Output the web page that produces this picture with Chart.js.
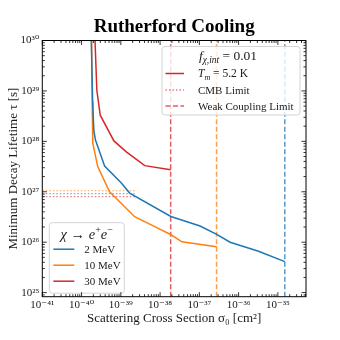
<!DOCTYPE html>
<html>
<head>
<meta charset="utf-8">
<script src="https://cdn.jsdelivr.net/npm/chart.js@4.4.1/dist/chart.umd.min.js"></script>
<style>
  html, body { margin: 0; padding: 0; background: #fff; }
</style>
</head>
<body>
<canvas id="chart" width="340" height="340"></canvas>
<script>
const FONT = "'Liberation Serif', 'DejaVu Serif', serif";
const INK = '#1a1a1a';

// masses and colours
const massLabels = ['2 MeV', '10 MeV', '30 MeV'];
const massColors = ['#1f77b4', '#ff7f0e', '#d62728'];

// cross section [cm^2] / minimum lifetime [s]
const sigma2MeV = [1.77e-40, 1.91e-40, 2.05e-40, 2.26e-40, 3.86e-40, 1.03e-39, 1.68e-39, 1.88e-38, 1.04e-37, 2.77e-37, 6.07e-37, 3.21e-36, 1.50e-35];
const tau2MeV   = [1e30, 6.55e28, 1.67e28, 1.06e28, 3.23e27, 1.49e27, 9.42e26, 3.23e26, 2.09e26, 1.43e26, 1.0e26, 6.6e25, 4.11e25];

const sigma10MeV = [1.80e-40, 1.86e-40, 1.93e-40, 2.59e-40, 5.18e-40, 8.43e-40, 2.25e-39, 7.31e-39, 1.85e-38, 3.60e-38, 2.74e-37];
const tau10MeV   = [1e30, 6.3e28, 9.2e27, 3.13e27, 1.0e27, 6.86e26, 3.20e26, 2.03e26, 1.42e26, 1.02e26, 8.15e25];

const sigma30MeV = [2.20e-40, 2.45e-40, 2.99e-40, 6.67e-40, 1.38e-39, 4.06e-39, 1.86e-38];
const tau30MeV   = [1e30, 1.03e29, 3.3e28, 1.02e28, 6.19e27, 3.3e27, 2.72e27];

// CMB limits (dotted) and weak coupling limits (dashed)
const cmbLimit = [9.2e26, 1.05e27, 8.0e26];
const cmbRange = [1e-41, 2.25e-39];
const weakCoupling = [1.50e-35, 2.74e-37, 1.86e-38];

// axis ranges and ticks
const xLimits = [1e-41, 5.2e-35];
const yLimits = [8.3e24, 1e30];
const xDecades = [1e-41, 1e-40, 1e-39, 1e-38, 1e-37, 1e-36, 1e-35];
const yDecades = [1e25, 1e26, 1e27, 1e28, 1e29, 1e30];

const sigmas = [sigma2MeV, sigma10MeV, sigma30MeV];
const taus = [tau2MeV, tau10MeV, tau30MeV];

const SUP = {'-': '⁻', '0': '⁰', '1': '¹', '2': '²', '3': '³', '4': '⁴', '5': '⁵', '6': '⁶', '7': '⁷', '8': '⁸', '9': '⁹'};
function pow10Label(v) {
  const e = Math.round(Math.log10(v));
  return '10' + String(e).split('').map(c => SUP[c]).join('');
}

function withAlpha(hex, a) {
  const n = parseInt(hex.slice(1), 16);
  return `rgba(${n >> 16}, ${(n >> 8) & 255}, ${n & 255}, ${a})`;
}

const datasets = [];
massLabels.forEach((label, i) => {
  datasets.push({
    label: label,
    data: sigmas[i].map((s, k) => ({x: s, y: taus[i][k]})),
    borderColor: massColors[i],
    borderWidth: 1.5,
    pointRadius: 0,
    tension: 0
  });
  datasets.push({
    label: label + ' CMB',
    data: cmbRange.map(s => ({x: s, y: cmbLimit[i]})),
    borderColor: withAlpha(massColors[i], 0.6),
    borderWidth: 1.3,
    borderDash: [1.5, 2],
    pointRadius: 0
  });
  datasets.push({
    label: label + ' weak',
    data: yLimits.map(t => ({x: weakCoupling[i], y: t})),
    borderColor: withAlpha(massColors[i], 0.75),
    borderWidth: 1.5,
    borderDash: [5, 2.5],
    pointRadius: 0
  });
});

// small helper for text with italics / sub / superscripts
function richText(ctx, parts, x, y, size, align) {
  const fontFor = p => `${p.it ? 'italic ' : ''}${(p.sub || p.sup) ? size * 0.7 : size}px ${FONT}`;
  let w = 0;
  parts.forEach(p => { ctx.font = fontFor(p); w += ctx.measureText(p.t).width; });
  let cx = align === 'center' ? x - w / 2 : x;
  ctx.textAlign = 'left';
  ctx.textBaseline = 'alphabetic';
  parts.forEach(p => {
    ctx.font = fontFor(p);
    const dy = p.sub ? size * 0.25 : (p.sup ? -size * 0.38 : 0);
    ctx.fillText(p.t, cx, y + dy);
    cx += ctx.measureText(p.t).width;
  });
}

function legendBox(ctx, x, y, w, h) {
  ctx.save();
  ctx.beginPath();
  ctx.roundRect(x, y, w, h, 3);
  ctx.fillStyle = 'rgba(255,255,255,0.8)';
  ctx.fill();
  ctx.strokeStyle = '#d4d4d4';
  ctx.lineWidth = 1;
  ctx.stroke();
  ctx.restore();
}

function sampleLine(ctx, x1, x2, y, color, dash, width) {
  ctx.save();
  ctx.strokeStyle = color;
  ctx.lineWidth = width;
  ctx.setLineDash(dash);
  ctx.beginPath();
  ctx.moveTo(x1, y);
  ctx.lineTo(x2, y);
  ctx.stroke();
  ctx.restore();
}

const legends = {
  id: 'legends',
  afterDatasetsDraw(chart) {
    const {ctx, chartArea: a} = chart;
    ctx.save();
    ctx.fillStyle = INK;

    // upper right: line styles
    const bx = a.right - 144, by = a.top + 6;
    legendBox(ctx, bx, by, 138, 68.5);
    richText(ctx, [{t: 'f', it: true}, {t: 'χ,int', it: true, sub: true}, {t: ' = 0.01'}], bx + 66, by + 13, 13.5, 'center');
    const red = massColors[2];
    sampleLine(ctx, bx + 3.5, bx + 22, by + 27, red, [], 1.5);
    sampleLine(ctx, bx + 3.5, bx + 22, by + 43.5, withAlpha(red, 0.6), [1.5, 2], 1.3);
    sampleLine(ctx, bx + 3.5, bx + 22, by + 59.5, withAlpha(red, 0.75), [5, 2.5], 1.5);
    richText(ctx, [{t: 'T', it: true}, {t: 'm', it: true, sub: true}, {t: ' = 5.2 K'}], bx + 36, by + 30.5, 11.5, 'left');
    richText(ctx, [{t: 'CMB Limit'}], bx + 36, by + 47.5, 11, 'left');
    richText(ctx, [{t: 'Weak Coupling Limit'}], bx + 36, by + 63.5, 11, 'left');

    // lower left: masses
    const lx = a.left + 7, ly = a.bottom - 74;
    legendBox(ctx, lx, ly, 75, 70.5);
    richText(ctx, [{t: 'χ', it: true}, {t: ' → '}, {t: 'e', it: true}, {t: '+', sup: true}, {t: 'e', it: true}, {t: '−', sup: true}], lx + 37.5, ly + 16, 14.5, 'center');
    massLabels.forEach((label, i) => {
      const yy = ly + 26.5 + i * 16;
      sampleLine(ctx, lx + 4, lx + 25, yy, massColors[i], [], 1.5);
      richText(ctx, [{t: label}], lx + 35, yy + 3.8, 11, 'left');
    });
    ctx.restore();
  }
};

// inward ticks on all four sides, plus the frame
const frameTicks = {
  id: 'frameTicks',
  afterDraw(chart) {
    const {ctx, chartArea: a, scales: {x, y}} = chart;
    ctx.save();
    ctx.strokeStyle = '#000';
    ctx.lineWidth = 0.8;
    ctx.beginPath();
    for (let e = -42; e <= -34; e++) {
      for (let m = 1; m <= 9; m++) {
        const v = m * Math.pow(10, e);
        if (v < x.min * 0.999 || v > x.max * 1.001) continue;
        const px = x.getPixelForValue(v);
        const len = m === 1 ? 4.5 : 2.5;
        ctx.moveTo(px, a.bottom); ctx.lineTo(px, a.bottom - len);
        ctx.moveTo(px, a.top); ctx.lineTo(px, a.top + len);
      }
    }
    for (let e = 24; e <= 30; e++) {
      for (let m = 1; m <= 9; m++) {
        const v = m * Math.pow(10, e);
        if (v < y.min * 0.999 || v > y.max * 1.001) continue;
        const py = y.getPixelForValue(v);
        const len = m === 1 ? 4.5 : 2.5;
        ctx.moveTo(a.left, py); ctx.lineTo(a.left + len, py);
        ctx.moveTo(a.right, py); ctx.lineTo(a.right - len, py);
      }
    }
    ctx.stroke();
    ctx.lineWidth = 1;
    ctx.strokeRect(a.left, a.top, a.right - a.left, a.bottom - a.top);
    ctx.restore();
  }
};

new Chart(document.getElementById('chart'), {
  type: 'line',
  data: {datasets: datasets},
  options: {
    responsive: false,
    animation: false,
    devicePixelRatio: 1,
    layout: {padding: {left: 0, right: 34, top: 0, bottom: 0}},
    plugins: {
      legend: {display: false},
      tooltip: {enabled: false},
      title: {
        display: true,
        text: 'Rutherford Cooling',
        fullSize: false,
        color: '#000',
        font: {family: FONT, size: 19, weight: 'bold'},
        padding: {top: 15.5, bottom: 2.2}
      }
    },
    scales: {
      x: {
        type: 'logarithmic',
        min: xLimits[0],
        max: xLimits[1],
        grid: {display: false, drawTicks: false},
        border: {display: false},
        afterBuildTicks: s => { s.ticks = xDecades.map(v => ({value: v})); },
        afterFit: s => { s.height = 43.3; },
        ticks: {
          autoSkip: false,
          maxRotation: 0,
          padding: 2,
          color: INK,
          font: {family: FONT, size: 11},
          callback: v => pow10Label(v)
        },
        title: {
          display: true,
          text: 'Scattering Cross Section σ₀ [cm²]',
          color: INK,
          font: {family: FONT, size: 13},
          padding: {top: 0, bottom: 14}
        }
      },
      y: {
        type: 'logarithmic',
        min: yLimits[0],
        max: yLimits[1],
        grid: {display: false, drawTicks: false},
        border: {display: false},
        afterBuildTicks: s => { s.ticks = yDecades.map(v => ({value: v})); },
        afterFit: s => { s.width = 42.3; },
        ticks: {
          autoSkip: false,
          padding: 3,
          color: INK,
          font: {family: FONT, size: 11},
          callback: v => pow10Label(v)
        },
        title: {
          display: true,
          text: 'Minimum Decay Lifetime τ [s]',
          color: INK,
          font: {family: FONT, size: 13},
          padding: {top: 6, bottom: 0}
        }
      }
    }
  },
  plugins: [legends, frameTicks]
});
</script>
</body>
</html>
